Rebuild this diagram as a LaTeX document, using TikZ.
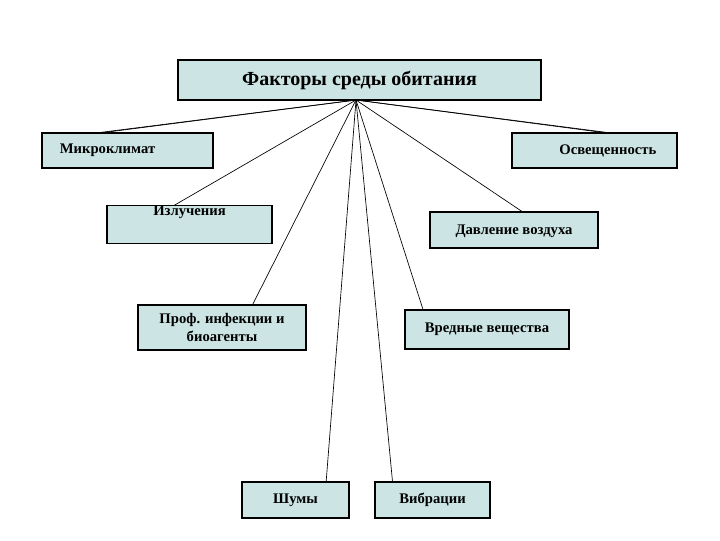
\documentclass[tikz,border=0pt]{standalone}
\usepackage{fontspec}
\setmainfont{Liberation Serif}
\definecolor{boxfill}{HTML}{CCE4E4}
\begin{document}
\begin{tikzpicture}[x=0.75pt,y=-0.75pt,
  fbox/.style={draw=black,fill=boxfill,line width=0.8pt,inner sep=0pt,align=center,font=\bfseries\fontsize{11}{13}\selectfont},
  link/.style={draw=black,line width=0.5pt}]
\useasboundingbox (0,0) rectangle (720,540);
\node[fbox,minimum width=363*0.75pt,minimum height=40*0.75pt,font=\bfseries\fontsize{15}{18}\selectfont] (top) at (359.5,80) {Факторы среды обитания};
\node[fbox,minimum width=171*0.75pt,minimum height=35*0.75pt] (mk) at (127.5,150.5) {\hspace*{-30pt}Микроклимат};
\node[fbox,minimum width=165*0.75pt,minimum height=35*0.75pt] (os) at (594.5,150.5) {\hspace*{20pt}Освещенность};
\node[fbox,minimum width=165*0.75pt,minimum height=35*0.75pt] (iz) at (189.5,224.5) {Излучения\\[8pt]};
\node[fbox,minimum width=168*0.75pt,minimum height=36*0.75pt] (dv) at (514,230) {\\[-4pt]Давление воздуха};
\node[fbox,minimum width=168*0.75pt,minimum height=45*0.75pt] (pr) at (222,327.5) {Проф. инфекции и\\биоагенты};
\node[fbox,minimum width=164*0.75pt,minimum height=39*0.75pt] (vr) at (487,329.5) {Вредные вещества};
\node[fbox,minimum width=107*0.75pt,minimum height=36*0.75pt] (sh) at (295.5,500) {Шумы};
\node[fbox,minimum width=115*0.75pt,minimum height=36*0.75pt] (vb) at (432.5,500) {Вибрации};
\coordinate (hub) at (356,100);
\path[link] (hub) -- (100,133) (hub) -- (607,133);
\draw[link] (hub) -- ([xshift=-11.25pt]iz.north);
\draw[link] (hub) -- ([xshift=6pt]dv.north);
\draw[link] (hub) -- ([xshift=23pt]pr.north);
\draw[link] (hub) -- ([xshift=-48pt]vr.north);
\draw[link] (hub) -- ([xshift=23pt]sh.north);
\draw[link] (hub) -- ([xshift=-30pt]vb.north);
\draw[link] (hub) -- ([xshift=-20.6pt]mk.north);
\draw[link] (hub) -- ([xshift=9.4pt]os.north);
\end{tikzpicture}
\end{document}
